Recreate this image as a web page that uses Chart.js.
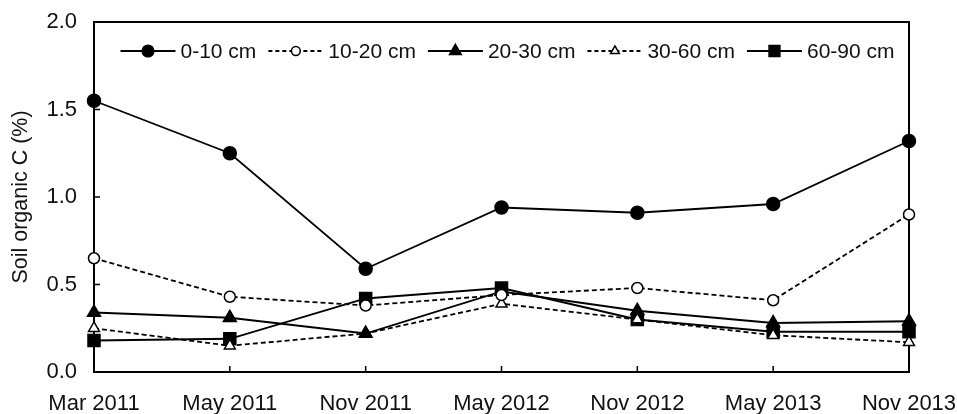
<!DOCTYPE html>
<html>
<head>
<meta charset="utf-8">
<script src="https://cdn.jsdelivr.net/npm/chart.js@4.4.0/dist/chart.umd.min.js"></script>
<style>
html, body { margin: 0; padding: 0; background: #fff; }
#wrap { width: 957px; height: 414px; }
</style>
</head>
<body>
<div id="wrap"><canvas id="socChart" width="957" height="414"></canvas></div>
<script>
// --- Data ---
const samplingDates = ['Mar 2011', 'May 2011', 'Nov 2011', 'May 2012', 'Nov 2012', 'May 2013', 'Nov 2013'];
const soc0to10 = [1.55, 1.25, 0.59, 0.94, 0.91, 0.96, 1.32];
const soc10to20 = [0.65, 0.43, 0.38, 0.44, 0.48, 0.41, 0.90];
const soc20to30 = [0.34, 0.31, 0.22, 0.46, 0.35, 0.28, 0.29];
const soc30to60 = [0.25, 0.15, 0.22, 0.39, 0.30, 0.21, 0.17];
const soc60to90 = [0.18, 0.19, 0.42, 0.48, 0.30, 0.23, 0.23];
const depthLabels = ['0-10 cm', '10-20 cm', '20-30 cm', '30-60 cm', '60-90 cm'];

// --- Style ---
const fontFamily = '"Liberation Sans", Arial, sans-serif';
const tickFontSize = 22;
const legendFontSize = 21;
const textColor = '#111';
const lineW = 1.8;
const dash = [5, 3];

function series(label, data, style, radius, filled, dashed) {
    return {
        label: label,
        data: data,
        borderColor: '#000',
        borderWidth: lineW,
        borderDash: dashed ? dash : [],
        pointStyle: style,
        pointRadius: radius,
        pointHoverRadius: radius,
        pointBackgroundColor: filled ? '#000' : '#fff',
        pointBorderColor: '#000',
        pointBorderWidth: 1.5,
        tension: 0,
        fill: false,
        clip: false
    };
}

// Box round the plot + short inward ticks on left and bottom axes
const frameAndTicks = {
    id: 'frameAndTicks',
    beforeDatasetsDraw(chart) {
        const { ctx, chartArea: a, scales } = chart;
        ctx.save();
        ctx.strokeStyle = '#000';
        ctx.lineWidth = 2;
        ctx.strokeRect(a.left, a.top, a.right - a.left, a.bottom - a.top);
        ctx.lineWidth = 1.5;
        ctx.beginPath();
        scales.y.ticks.forEach(t => {
            const py = scales.y.getPixelForValue(t.value);
            ctx.moveTo(a.left, py);
            ctx.lineTo(a.left + 6, py);
        });
        scales.x.ticks.forEach((t, i) => {
            const px = scales.x.getPixelForTick(i);
            ctx.moveTo(px, a.bottom);
            ctx.lineTo(px, a.bottom - 6);
        });
        ctx.stroke();
        ctx.restore();
    }
};

// Legend drawn inside the plot area, one row, line sample + marker + text
const insideLegend = {
    id: 'insideLegend',
    afterDatasetsDraw(chart) {
        const { ctx, chartArea: a } = chart;
        const sampleW = 55, textGap = 5, itemGap = 12;
        ctx.save();
        ctx.font = legendFontSize + 'px ' + fontFamily;
        const widths = chart.data.datasets.map(ds => sampleW + textGap + ctx.measureText(ds.label).width);
        const total = widths.reduce((s, w) => s + w, 0) + itemGap * (widths.length - 1);
        let x = (a.left + a.right) / 2 - total / 2 + 6;
        const y = a.top + 29;
        chart.data.datasets.forEach((ds, i) => {
            ctx.strokeStyle = '#000';
            ctx.lineWidth = lineW;
            ctx.setLineDash(ds.borderDash.length ? [4, 3] : []);
            ctx.beginPath();
            ctx.moveTo(x, y);
            ctx.lineTo(x + sampleW, y);
            ctx.stroke();
            ctx.setLineDash([]);
            ctx.fillStyle = ds.pointBackgroundColor;
            ctx.lineWidth = ds.pointBorderWidth;
            const r = ds.pointBackgroundColor === '#fff' ? ds.pointRadius * 0.8 : ds.pointRadius * 0.9;
            Chart.helpers.drawPoint(ctx, { pointStyle: ds.pointStyle, radius: r, borderWidth: ds.pointBorderWidth, rotation: 0 }, x + sampleW / 2, y);
            ctx.fillStyle = textColor;
            ctx.textBaseline = 'middle';
            ctx.textAlign = 'left';
            ctx.fillText(ds.label, x + sampleW + textGap, y + 1);
            x += widths[i] + itemGap;
        });
        ctx.restore();
    }
};

const chart = new Chart(document.getElementById('socChart'), {
    type: 'line',
    data: {
        labels: samplingDates,
        datasets: [
            series(depthLabels[0], soc0to10, 'circle', 6.5, true, false),
            series(depthLabels[1], soc10to20, 'circle', 5.5, false, true),
            series(depthLabels[2], soc20to30, 'triangle', 7.5, true, false),
            series(depthLabels[3], soc30to60, 'triangle', 6.3, false, true),
            series(depthLabels[4], soc60to90, 'rect', 8.5, true, false)
        ]
    },
    options: {
        responsive: false,
        maintainAspectRatio: false,
        animation: false,
        devicePixelRatio: 1,
        layout: { padding: { top: 22, right: 48, left: 0, bottom: 0 } },
        plugins: {
            legend: { display: false },
            tooltip: { enabled: false }
        },
        scales: {
            x: {
                type: 'category',
                offset: false,
                grid: { display: false, drawTicks: false },
                border: { display: false },
                ticks: {
                    color: textColor,
                    font: { family: fontFamily, size: tickFontSize },
                    padding: 19,
                    maxRotation: 0,
                    autoSkip: false
                },
                afterFit(scale) {
                    scale.height = 42;
                    scale.paddingLeft = 0;
                    scale.paddingRight = 0;
                }
            },
            y: {
                min: 0,
                max: 2,
                grid: { display: false, drawTicks: false },
                border: { display: false },
                ticks: {
                    stepSize: 0.5,
                    color: textColor,
                    font: { family: fontFamily, size: tickFontSize },
                    padding: 17,
                    callback: v => v.toFixed(1)
                },
                title: {
                    display: true,
                    text: 'Soil organic C (%)',
                    color: textColor,
                    font: { family: fontFamily, size: 21.5 },
                    padding: { top: 8, bottom: 0 }
                },
                afterFit(scale) {
                    scale.width = 94;
                    scale.paddingTop = 0;
                    scale.paddingBottom = 0;
                }
            }
        }
    },
    plugins: [frameAndTicks, insideLegend]
});
</script>
</body>
</html>
